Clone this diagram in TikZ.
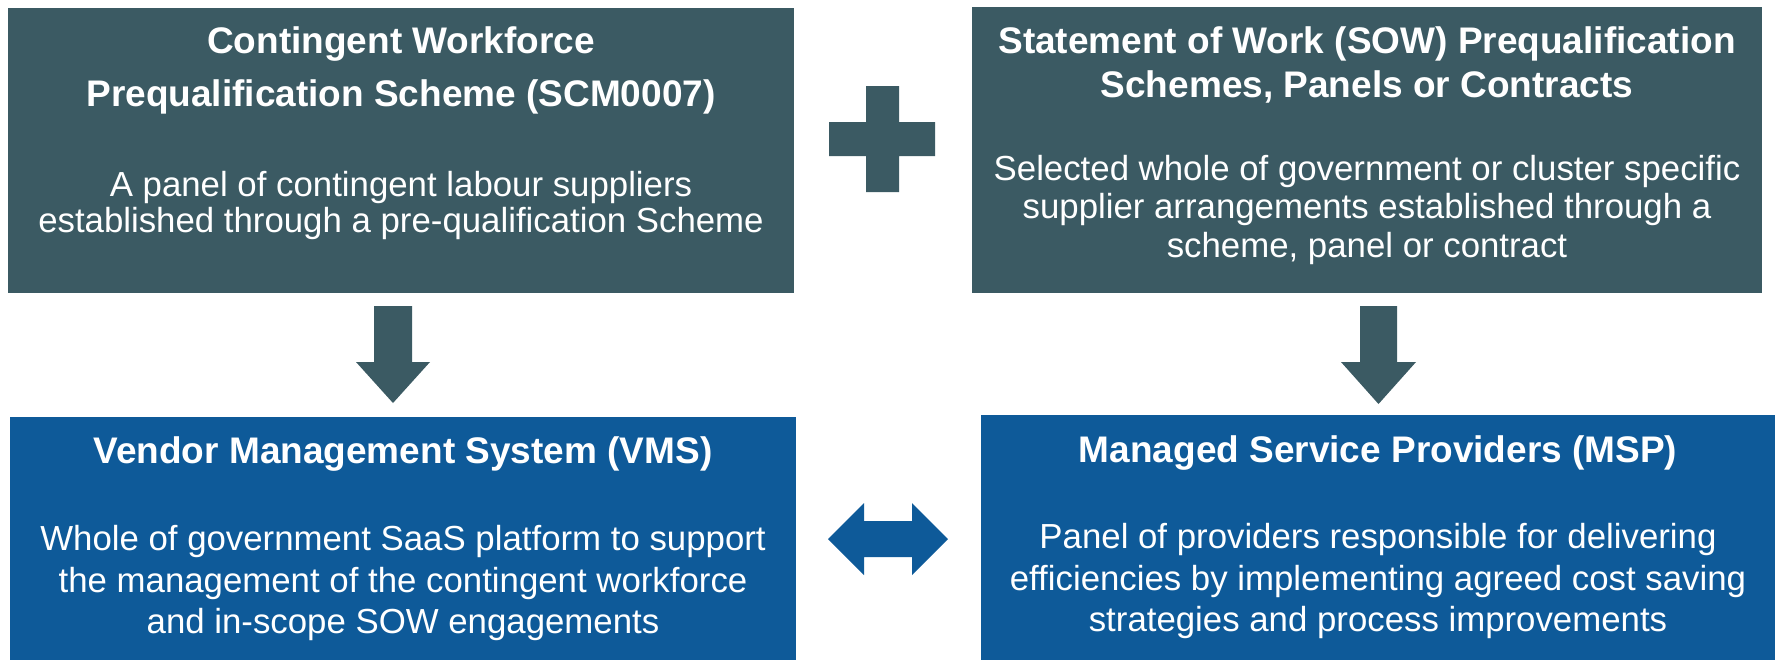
\documentclass[tikz,border=0pt]{standalone}
\usepackage{fontspec}
\setmainfont{Liberation Sans}
\definecolor{tealc}{RGB}{59,90,99}
\definecolor{bluec}{RGB}{14,90,153}
\tikzset{
  boxt/.style={fill=tealc, draw=none, inner sep=0pt, anchor=north west},
  boxb/.style={fill=bluec, draw=none, inner sep=0pt, anchor=north west},
  ttl/.style={text=white, inner sep=0pt, anchor=base, font=\fontsize{18.5}{20}\selectfont\bfseries},
  bdy/.style={text=white, inner sep=0pt, anchor=base, font=\fontsize{17.4}{19}\selectfont},
}
\begin{document}
\begin{tikzpicture}[x=0.5pt,y=-0.5pt]
\useasboundingbox[fill=white] (0,0) rectangle (1783,660);
% boxes
\node[boxt, minimum width=393pt, minimum height=142.5pt] (cw) at (8,8) {};
\node[boxt, minimum width=395pt, minimum height=143pt] (sow) at (972,7) {};
\node[boxb, minimum width=393pt, minimum height=121.5pt] (vms) at (10,417) {};
\node[boxb, minimum width=397pt, minimum height=122.5pt] (msp) at (981,415) {};
% top-left texts
\node[ttl] (cw1) at (401,53) {Contingent Workforce};
\node[ttl] (cw2) at (401,106) {Prequalification Scheme (SCM0007)};
\node[bdy] (cw3) at (401,196) {A panel of contingent labour suppliers};
\node[bdy] (cw4) at (401,232) {established through a pre-qualification Scheme};
% top-right texts
\node[ttl] (sow1) at (1367,53) {Statement of Work (SOW) Prequalification};
\node[ttl] (sow2) at (1367,97) {Schemes, Panels or Contracts};
\node[bdy] (sow3) at (1367,180) {Selected whole of government or cluster specific};
\node[bdy] (sow4) at (1367,218) {supplier arrangements established through a};
\node[bdy] (sow5) at (1367,257) {scheme, panel or contract};
% bottom-left texts
\node[ttl] (vms1) at (403,463) {Vendor Management System (VMS)};
\node[bdy] (vms2) at (403,550) {Whole of government SaaS platform to support};
\node[bdy] (vms3) at (403,592) {the management of the contingent workforce};
\node[bdy] (vms4) at (403,633) {and in-scope SOW engagements};
% bottom-right texts
\node[ttl] (msp1) at (1378,462) {Managed Service Providers (MSP)};
\node[bdy] (msp2) at (1378,548) {Panel of providers responsible for delivering};
\node[bdy] (msp3) at (1378,590) {efficiencies by implementing agreed cost saving};
\node[bdy] (msp4) at (1378,631) {strategies and process improvements};
% plus sign
\fill[tealc] (866,86) -- (899,86) -- (899,122) -- (935,122) -- (935,156) -- (899,156)
  -- (899,192) -- (866,192) -- (866,156) -- (829,156) -- (829,122) -- (866,122) -- cycle;
% down arrows
\fill[tealc] (374,306) -- (412,306) -- (412,362) -- (430,362) -- (393,403) -- (356,362) -- (374,362) -- cycle;
\fill[tealc] (1360,306) -- (1397,306) -- (1397,362) -- (1416,362) -- (1378.5,404) -- (1341,362) -- (1360,362) -- cycle;
% double arrow
\fill[bluec] (828,539) -- (864,503) -- (864,521) -- (912,521) -- (912,503) -- (948,539)
  -- (912,575) -- (912,557) -- (864,557) -- (864,575) -- cycle;
\end{tikzpicture}
\end{document}
